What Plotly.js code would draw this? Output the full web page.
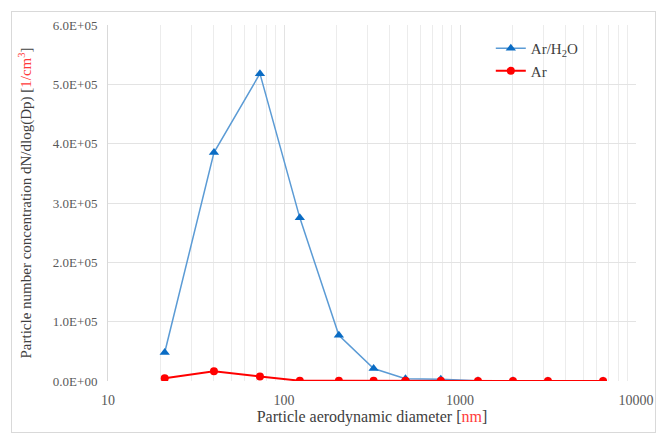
<!DOCTYPE html>
<html>
<head>
<meta charset="utf-8">
<script src="https://cdn.plot.ly/plotly-3.0.1.min.js"></script>
<style>
  html, body { margin: 0; padding: 0; background: #fff; }
  #wrap { position: relative; width: 662px; height: 435px; }
  #chart { width: 662px; height: 435px; }
  #frame { position: absolute; left: 11px; top: 11px; width: 643px; height: 420px; border: 1px solid #d9d9d9; pointer-events: none; }
</style>
</head>
<body>
<div id="wrap"><div id="chart"></div><div id="frame"></div></div>
<script>
// Particle aerodynamic diameter [nm]
const diameters = [21, 40, 73, 123, 205, 323, 490, 778, 1265, 2000, 3160, 6500];
// dN/dlog(Dp) [1/cm3]
const arH2O = [48000, 385000, 518000, 275000, 77000, 21000, 4000, 3000, 500, 300, 200, 200];
const ar    = [4500, 16500, 7500, 500, 300, 500, 300, 500, 200, 200, 200, 200];

const yTickVals = [0, 100000, 200000, 300000, 400000, 500000, 600000];
const yTickText = ["0.0E+00", "1.0E+05", "2.0E+05", "3.0E+05", "4.0E+05", "5.0E+05", "6.0E+05"];
const xTickVals = [10, 100, 1000, 10000];
const xTickText = ["10", "100", "1000", "10000"];

const minorVals = [];
for (let d = 10; d < 10000; d *= 10) {
  for (let k = 2; k <= 9; k++) minorVals.push(k * d);
}

const serif = "'Liberation Serif', 'Times New Roman', serif";

const traces = [
  {
    x: diameters, y: arH2O, name: "Ar/H<sub>2</sub>O",
    type: "scatter", mode: "lines+markers",
    line: { color: "#5B9BD5", width: 1.5 },
    marker: { symbol: "triangle-up", size: 9, color: "#0A6CC4" }
  },
  {
    x: diameters, y: ar, name: "Ar",
    type: "scatter", mode: "lines+markers",
    line: { color: "#FF0000", width: 2 },
    marker: { symbol: "circle", size: 8, color: "#FF0000" }
  }
];

const layout = {
  width: 662, height: 435,
  margin: { l: 108, r: 26, t: 25, b: 54 },
  paper_bgcolor: "#fff", plot_bgcolor: "#fff",
  font: { family: serif, color: "#404040", size: 14 },
  showlegend: true,
  legend: {
    x: 0.725, y: 0.98, xanchor: "left", yanchor: "top",
    bgcolor: "rgba(0,0,0,0)",
    font: { family: serif, size: 15, color: "#404040" }
  },
  xaxis: {
    type: "log",
    range: [1, 4],
    tickvals: xTickVals, ticktext: xTickText,
    tickfont: { family: serif, size: 14, color: "#595959" },
    showgrid: true, gridcolor: "#e3e3e3", gridwidth: 1,
    minor: { tickvals: minorVals, showgrid: true, gridcolor: "#ececec", gridwidth: 1, ticks: "" },
    showline: false, zeroline: false,
    ticks: "outside", ticklen: 6, tickcolor: "rgba(0,0,0,0)",
    automargin: false,
    title: {
      text: "Particle aerodynamic diameter [<span style='color:#FF3B3B'>nm</span>]",
      font: { family: serif, size: 16, color: "#404040" },
      standoff: 4
    }
  },
  yaxis: {
    range: [0, 600000],
    tickvals: yTickVals, ticktext: yTickText,
    tickfont: { family: serif, size: 13, color: "#595959" },
    showgrid: true, gridcolor: "#e3e3e3", gridwidth: 1,
    showline: true, linecolor: "#d9d9d9", linewidth: 1,
    zeroline: false, ticks: "outside", ticklen: 7, tickcolor: "rgba(0,0,0,0)",
    automargin: false,
    title: {
      text: "Particle number concentration dN/dlog(Dp) [<span style='color:#FF3B3B'>1/cm<sup>3</sup></span>]",
      font: { family: serif, size: 15, color: "#404040" },
      standoff: 17
    }
  }
};

Plotly.newPlot("chart", traces, layout, { displayModeBar: false, staticPlot: true });
</script>
</body>
</html>
